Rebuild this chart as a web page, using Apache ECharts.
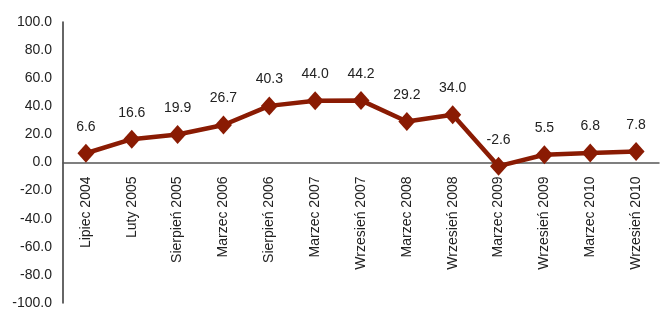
<!DOCTYPE html>
<html>
<head>
<meta charset="utf-8">
<script src="https://cdn.jsdelivr.net/npm/echarts@6/dist/echarts.min.js"></script>
<style>
  html, body { margin: 0; padding: 0; background: #fff; }
  #main { width: 661px; height: 310px; }
</style>
</head>
<body>
<div id="main"></div>
<script>
// kategorie (daty badań)
var categories = ['Lipiec 2004', 'Luty 2005', 'Sierpień 2005', 'Marzec 2006', 'Sierpień 2006',
  'Marzec 2007', 'Wrzesień 2007', 'Marzec 2008', 'Wrzesień 2008', 'Marzec 2009',
  'Wrzesień 2009', 'Marzec 2010', 'Wrzesień 2010'];
// wartości
var values = [6.6, 16.6, 19.9, 26.7, 40.3, 44.0, 44.2, 29.2, 34.0, -2.6, 5.5, 6.8, 7.8];
// oś Y
var yMin = -100, yMax = 100, yStep = 20;

var chart = echarts.init(document.getElementById('main'));
var font = 'Liberation Sans, Arial, sans-serif';

var gridTop = 22, gridBottom = 7;
var gridH = 310 - gridTop - gridBottom;
// przesunięcie osi X na poziom zera
var zeroOffset = -gridH * (0 - yMin) / (yMax - yMin);

var option = {
  animation: false,
  grid: { left: 63, right: 2, top: gridTop, bottom: gridBottom, containLabel: false, outerBoundsMode: 'none' },
  xAxis: {
    type: 'category',
    data: categories,
    boundaryGap: true,
    position: 'bottom',
    offset: zeroOffset,
    axisLine: { onZero: false, lineStyle: { color: '#555', width: 1.5 } },
    axisTick: { show: false },
    axisLabel: {
      rotate: 90,
      margin: 14,
      interval: 0,
      color: '#222',
      fontSize: 14,
      fontFamily: font
    }
  },
  yAxis: {
    type: 'value',
    min: yMin,
    max: yMax,
    interval: yStep,
    splitLine: { show: false },
    axisLine: { show: true, lineStyle: { color: '#333', width: 1.5 } },
    axisTick: { show: false },
    axisLabel: {
      margin: 11,
      color: '#222',
      fontSize: 14,
      fontFamily: font,
      formatter: function (v) { return v.toFixed(1); }
    }
  },
  series: [{
    type: 'line',
    data: values,
    symbol: 'diamond',
    symbolSize: [17, 19],
    lineStyle: { color: '#8A1B03', width: 4.5 },
    itemStyle: { color: '#8A1B03' },
    label: {
      show: true,
      position: 'top',
      distance: 10,
      color: '#222',
      fontSize: 14,
      fontFamily: font,
      formatter: function (p) { return p.value.toFixed(1); }
    }
  }]
};

chart.setOption(option);
</script>
</body>
</html>
